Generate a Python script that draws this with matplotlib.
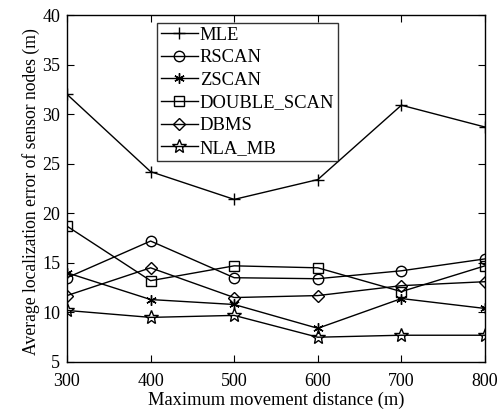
import numpy as np
from matplotlib import pyplot as plt

plt.rcParams['font.family'] = 'Liberation Serif'

x = [300, 400, 500, 600, 700, 800]

mle = [32.0, 24.2, 21.4, 23.4, 30.9, 28.7]
rscan = [13.5, 17.2, 13.5, 13.4, 14.2, 15.4]
zscan = [14.0, 11.3, 10.8, 8.4, 11.4, 10.4]
double_scan = [18.7, 13.2, 14.7, 14.5, 12.1, 14.7]
dbms = [11.7, 14.5, 11.5, 11.7, 12.7, 13.1]
nla_mb = [10.2, 9.5, 9.7, 7.5, 7.7, 7.7]

fig = plt.figure(figsize=(4.99, 4.09), dpi=100)
ax = fig.add_axes([67/499, 1 - 362/409, 418/499, 347/409])

kw = dict(color='black', lw=1.0, mfc='none', mec='black', mew=1.0)
ax.plot(x, mle, marker='+', ms=9, label='MLE', **kw)
ax.plot(x, rscan, marker='o', ms=7.5, label='RSCAN', **kw)
ax.plot(x, zscan, marker=(6, 2, 0), ms=7.5, label='ZSCAN', **kw)
ax.plot(x, double_scan, marker='s', ms=7, label='DOUBLE_SCAN', **kw)
ax.plot(x, dbms, marker='D', ms=6, label='DBMS', **kw)
ax.plot(x, nla_mb, marker='*', ms=10, label='NLA_MB', **kw)

ax.set_xlim(300, 800)
ax.set_ylim(5, 40)
ax.set_xticks(x)
ax.set_yticks(np.arange(5, 41, 5))
ax.tick_params(direction='in', top=True, right=True, labelsize=13, length=5)
ax.tick_params(axis='x', pad=8)
ax.tick_params(axis='y', pad=5)
ax.set_xlabel('Maximum movement distance (m)', fontsize=13.3)
ax.set_ylabel('Average localization error of sensor nodes (m)', fontsize=12.7)
ax.xaxis.set_label_coords(0.5, (362 - 392) / 347)
ax.yaxis.set_label_coords((40 - 67) / 418, 0.49)
for s in ax.spines.values():
    s.set_linewidth(1.0)

leg = ax.legend(loc='upper left', bbox_to_anchor=(90/418, 1 - 8/347), fontsize=13.4,
                frameon=True, fancybox=False, edgecolor='black', borderpad=0.2,
                labelspacing=0.3, handlelength=2.0, handletextpad=0.1,
                borderaxespad=0)
leg.get_frame().set_linewidth(1.0)

plt.savefig('out.png', dpi=100)
